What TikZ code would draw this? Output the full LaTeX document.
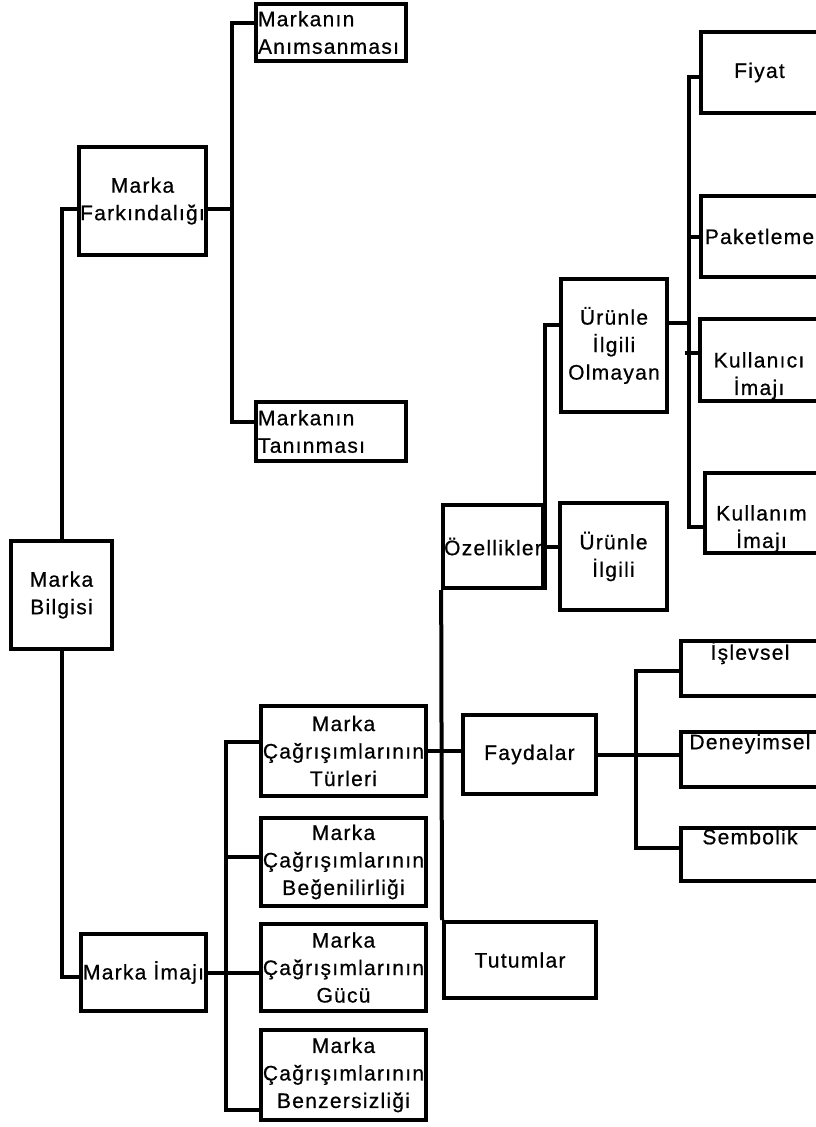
\documentclass[tikz,border=0pt]{standalone}
\usepackage{fontspec}
\setmainfont[LetterSpace=6,FakeBold=0.6]{Liberation Sans}

\begin{document}
\begin{tikzpicture}[x=1pt,y=-1pt,
	kutu/.style={draw,fill=white,line width=4pt,inner sep=1pt,align=center,
		font=\fontsize{21}{27.5}\selectfont},
	bag/.style={line width=4pt}]
	\useasboundingbox (0,0) rectangle (816,1127);
	\clip (0,0) rectangle (816,1127);
	
	%Marka Bilgisi
	\node[kutu,minimum width=101,minimum height=108] (bilgi) at (61.5,595) {Marka\\Bilgisi};
	\node[kutu,minimum width=127,minimum height=108] (fark) at (142.5,201) {Marka\\Farkındalığı};
	\node[kutu,minimum width=125,minimum height=77] (imaji) at (143.5,972.5) {Marka İmajı};
	
	%Farkindalik
	\node[kutu,minimum width=150,minimum height=57,align=left,text width=146] (anims) at (331,32.5) {Markanın\\Anımsanması};
	\node[kutu,minimum width=150,minimum height=59,align=left,text width=146] (tanin) at (331,431.5) {Markanın\\Tanınması};
	
	%Imaj
	\node[kutu,minimum width=165,minimum height=90] (turler) at (343.5,751) {Marka\\Çağrışımlarının\\Türleri};
	\node[kutu,minimum width=165,minimum height=88] (begen) at (343.5,862) {Marka\\Çağrışımlarının\\Beğenilirliği};
	\node[kutu,minimum width=165,minimum height=87] (gucu) at (343.5,967.5) {Marka\\Çağrışımlarının\\Gücü};
	\node[kutu,minimum width=165,minimum height=90] (benz) at (343.5,1075) {Marka\\Çağrışımlarının\\Benzersizliği};
	
	%Turler
	\node[kutu,minimum width=98,minimum height=83] (ozel) at (493,546.5) {Özellikler};
	\node[kutu,minimum width=133,minimum height=79] (fayda) at (529.5,754.5) {Faydalar};
	\node[kutu,minimum width=152,minimum height=76] (tutum) at (520,960) {Tutumlar};
	
	%Ozellikler
	\node[kutu,minimum width=106,minimum height=133] (olmayan) at (614,345.5) {Ürünle\\İlgili\\Olmayan};
	\node[kutu,minimum width=107,minimum height=107] (ilgili) at (613.5,556.5) {Ürünle\\İlgili};
	
	%Olmayan
	\node[kutu,minimum width=117,minimum height=81] (fiyat) at (759.5,72.5) {Fiyat};
	\node[kutu,minimum width=117,minimum height=81] (paket) at (759.5,236.5) {Paketleme};
	\node[kutu,minimum width=118,minimum height=82] (kulci) at (759,360) {\strut\\Kullanıcı\\İmajı};
	\node[kutu,minimum width=113,minimum height=80] (kulim) at (761.5,513) {\strut\\Kullanım\\İmajı};
	
	%Faydalar
	\node[kutu,minimum width=138,minimum height=55] (islev) at (750,668.5) {İşlevsel\\\strut};
	\node[kutu,minimum width=138,minimum height=55] (deney) at (750,759.5) {Deneyimsel\\\strut};
	\node[kutu,minimum width=138,minimum height=53] (sembol) at (750,854.5) {Sembolik\\\strut};
	
	%Verbindungen
	\draw[bag] ([yshift=-8pt]fark.west) -| (bilgi.north);
	\draw[bag] (bilgi.south) |- ([yshift=-4.5pt]imaji.west);
	\draw[bag] ([yshift=-8pt]fark.east) -- ++(24,0) coordinate (fk);
	\draw[bag] ([yshift=9.5pt]anims.west) -| (fk) |- ([yshift=9.5pt]tanin.west);
	
	\draw[bag] (imaji.east) -- (imaji.east -| gucu.west);
	\draw[bag] ([yshift=9pt]turler.west) -- ++(-33.5,0) |- ([yshift=-35pt]benz.west);
	\draw[bag] ([yshift=5pt]begen.west) -- ++(-33.5,0);
	
	\draw[bag] (turler.east) -- (turler.east -| fayda.west);
	\draw[bag] (ozel.south west) -- (tutum.north west);
	\draw[bag] (ozel.south east) |- ([yshift=20.5pt]olmayan.west);
	\draw[bag] (ozel.east) -- (ozel.east -| ilgili.west);
	
	\draw[bag] ([yshift=22.5pt]olmayan.east) -- ++(20,0) coordinate (ok);
	\draw[bag] ([yshift=-4.5pt]fiyat.west) -| (ok) |- ([yshift=-14pt]kulim.west);
	\draw[bag] (paket.west) -- (paket.west -| ok);
	\draw[bag] ([yshift=7pt]kulci.west) -- ++(-13,0);
	
	\draw[bag] (fayda.east) -- (fayda.east -| deney.west);
	\draw[bag] ([yshift=-2.5pt]islev.west) -- ++(-43,0) |- ([yshift=6.5pt]sembol.west);
	
\end{tikzpicture}
\end{document}
